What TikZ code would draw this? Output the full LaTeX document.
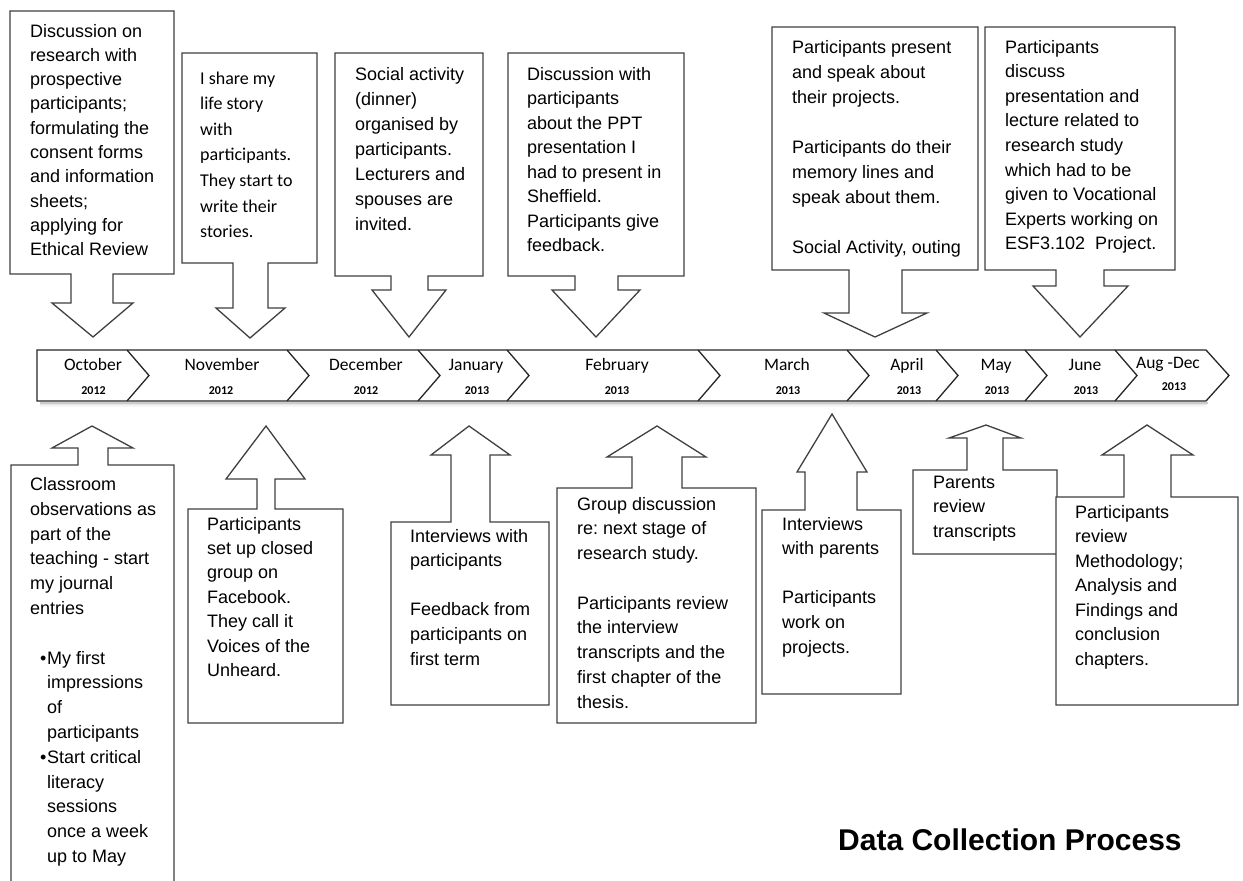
\documentclass[tikz,border=0pt]{standalone}
\usepackage{fontspec}
\setmainfont{Liberation Sans}
\newfontfamily\calfont{Carlito}
\frenchspacing
\begin{document}
\begin{tikzpicture}[x=1pt,y=-1pt,
  callout/.style={draw=black!75, line width=1.3pt, line join=miter, fill=white},
  band/.style={draw=black!85, line width=1.3pt, line join=miter},
  txt/.style={anchor=base west, inner sep=0pt, font=\fontsize{18}{24.6}\selectfont},
  mon/.style={anchor=base, inner sep=0pt, font=\calfont\fontsize{17.5}{20}\selectfont},
  yr/.style={anchor=base, inner sep=0pt, font=\calfont\bfseries\fontsize{12}{14}\selectfont}]
\path[use as bounding box] (0,0) rectangle (1243,881);
\clip (0,0) rectangle (1243,881);
\fill[white] (0,0) rectangle (1243,881);

% ---- timeline band ----
\draw[gray!40, line width=1.5pt] (40,403) -- (1208,403);
\draw[gray!20, line width=1.5pt] (40,404.5) -- (1207,404.5);
\draw[gray!8, line width=1.5pt] (40,406) -- (1206,406);
\draw[band, fill=white] (37,350) -- (1206,350) -- (1229,375.5) -- (1206,401) -- (37,401) -- cycle;
\foreach \b in {127,287,418,507,698,847,936,1025,1115}
  \draw[band] (\b,350) -- ({\b+22},375.5) -- (\b,401);

\node[mon] (m1) at (93,370) {October};
\node[mon] (m2) at (222,370) {November};
\node[mon] (m3) at (366,370) {December};
\node[mon] (m4) at (476,370) {January};
\node[mon] (m5) at (617,370) {February};
\node[mon] (m6) at (787,370) {March};
\node[mon] (m7) at (907,370) {April};
\node[mon] (m8) at (996,370) {May};
\node[mon] (m9) at (1085,370) {June};
\node[mon] (m10) at (1168,368) {Aug -Dec};
\node[yr] (y1) at (93.5,394) {2012};
\node[yr] (y2) at (221,394) {2012};
\node[yr] (y3) at (366,394) {2012};
\node[yr] (y4) at (477,394) {2013};
\node[yr] (y5) at (617,394) {2013};
\node[yr] (y6) at (788,394) {2013};
\node[yr] (y7) at (909,394) {2013};
\node[yr] (y8) at (997,394) {2013};
\node[yr] (y9) at (1086,394) {2013};
\node[yr] (y10) at (1174,390) {2013};

% ---- top callouts (down arrows) ----
\draw[callout] (10,11) -- (174,11) -- (174,274) -- (113,274) -- (113,303) -- (133,303) -- (93,337) -- (52,303) -- (71,303) -- (71,274) -- (10,274) -- cycle;
\draw[callout] (182,53) -- (317,53) -- (317,263) -- (268,263) -- (268,308) -- (285,308) -- (250,338) -- (216,308) -- (233,308) -- (233,263) -- (182,263) -- cycle;
\draw[callout] (335,53) -- (483,53) -- (483,276) -- (428,276) -- (428,290) -- (446,290) -- (409,337) -- (372,290) -- (391,290) -- (391,276) -- (335,276) -- cycle;
\draw[callout] (508,53) -- (684,53) -- (684,276) -- (618,276) -- (618,290) -- (640,290) -- (596,337) -- (552,290) -- (575,290) -- (575,276) -- (508,276) -- cycle;
\draw[callout] (772,27) -- (978,27) -- (978,270) -- (902,270) -- (902,313) -- (927,313) -- (875,337) -- (824,313) -- (849,313) -- (849,270) -- (772,270) -- cycle;
\draw[callout] (985,27) -- (1175,27) -- (1175,270) -- (1104,270) -- (1104,286) -- (1128,286) -- (1080,337) -- (1033,286) -- (1056,286) -- (1056,270) -- (985,270) -- cycle;

\node[txt, font=\fontsize{18}{24.3}\selectfont] (t1) at (30,37) {\begin{tabular}[t]{@{}l@{}}Discussion on\\research with\\prospective\\participants;\\formulating the\\consent forms\\and information\\sheets;\\applying for\\Ethical Review\end{tabular}};
\node[txt, font=\calfont\fontsize{18}{25.6}\selectfont] (t2) at (200,84) {\begin{tabular}[t]{@{}l@{}}I share my\\life story\\with\\participants.\\They start to\\write their\\stories.\end{tabular}};
\node[txt, font=\fontsize{18}{25}\selectfont] (t3) at (355,80) {\begin{tabular}[t]{@{}l@{}}Social activity\\(dinner)\\organised by\\participants.\\Lecturers and\\spouses are\\invited.\end{tabular}};
\node[txt, font=\fontsize{18}{24.5}\selectfont] (t4) at (527,80) {\begin{tabular}[t]{@{}l@{}}Discussion with\\participants\\about the PPT\\presentation I\\had to present in\\Sheffield.\\Participants give\\feedback.\end{tabular}};
\node[txt, font=\fontsize{18}{25}\selectfont] (t5) at (792,53) {\begin{tabular}[t]{@{}l@{}}Participants present\\and speak about\\their projects.\\ \\Participants do their\\memory lines and\\speak about them.\\ \\Social Activity, outing\end{tabular}};
\node[txt] (t6) at (1005,53) {\begin{tabular}[t]{@{}l@{}}Participants\\discuss\\presentation and\\lecture related to\\research study\\which had to be\\given to Vocational\\Experts working on\\ESF3.102\ \ Project.\end{tabular}};

% ---- bottom callouts (up arrows) ----
\draw[callout] (11,900) -- (11,465) -- (78,465) -- (78,448) -- (52,448) -- (92,426) -- (133,448) -- (108,448) -- (108,465) -- (174,465) -- (174,900);
\draw[callout] (188,509) -- (257,509) -- (257,479) -- (226,479) -- (266,426) -- (305,479) -- (275,479) -- (275,509) -- (343,509) -- (343,723) -- (188,723) -- cycle;
\draw[callout] (391,522) -- (451,522) -- (451,455) -- (431,455) -- (469,426) -- (510,455) -- (490,455) -- (490,522) -- (549,522) -- (549,705) -- (391,705) -- cycle;
\draw[callout] (557,488) -- (632,488) -- (632,457) -- (607,457) -- (657,426) -- (706,457) -- (682,457) -- (682,488) -- (756,488) -- (756,723) -- (557,723) -- cycle;
\draw[callout] (762,510) -- (805,510) -- (805,472) -- (797,472) -- (832,414) -- (867,472) -- (857,472) -- (857,510) -- (901,510) -- (901,694) -- (762,694) -- cycle;
\draw[callout] (913,470) -- (967,470) -- (967,438) -- (949,438) -- (986,425) -- (1021,438) -- (1003,438) -- (1003,470) -- (1057,470) -- (1057,554) -- (913,554) -- cycle;
\draw[callout] (1056,497) -- (1124,497) -- (1124,455) -- (1102,455) -- (1147,425) -- (1193,455) -- (1171,455) -- (1171,497) -- (1238,497) -- (1238,705) -- (1056,705) -- cycle;

\node[txt, font=\fontsize{18}{24.8}\selectfont] (b1) at (30,490.5) {\begin{tabular}[t]{@{}l@{}}Classroom\\observations as\\part of the\\teaching - start\\my journal\\entries\\ \\\hspace*{10pt}\makebox[7pt][l]{\textbullet}My first\\\hspace*{17pt}impressions\\\hspace*{17pt}of\\\hspace*{17pt}participants\\\hspace*{10pt}\makebox[7pt][l]{\textbullet}Start critical\\\hspace*{17pt}literacy\\\hspace*{17pt}sessions\\\hspace*{17pt}once a week\\\hspace*{17pt}up to May\end{tabular}};
\node[txt, font=\fontsize{18}{24.45}\selectfont] (b2) at (207,530) {\begin{tabular}[t]{@{}l@{}}Participants\\set up closed\\group on\\Facebook.\\They call it\\Voices of the\\Unheard.\end{tabular}};
\node[txt] (b3) at (410,542) {\begin{tabular}[t]{@{}l@{}}Interviews with\\participants\\ \\Feedback from\\participants on\\first term\end{tabular}};
\node[txt, font=\fontsize{18}{24.75}\selectfont] (b4) at (577,510) {\begin{tabular}[t]{@{}l@{}}Group discussion\\re: next stage of\\research study.\\ \\Participants review\\the interview\\transcripts and the\\first chapter of the\\thesis.\end{tabular}};
\node[txt] (b5) at (782,530) {\begin{tabular}[t]{@{}l@{}}Interviews\\with parents\\ \\Participants\\work on\\projects.\end{tabular}};
\node[txt, font=\fontsize{18}{24.5}\selectfont] (b6) at (933,488) {\begin{tabular}[t]{@{}l@{}}Parents\\review\\transcripts\end{tabular}};
\node[txt, font=\fontsize{18}{24.5}\selectfont] (b7) at (1075,518) {\begin{tabular}[t]{@{}l@{}}Participants\\review\\Methodology;\\Analysis and\\Findings and\\conclusion\\chapters.\end{tabular}};

\node[anchor=base west, inner sep=0pt, font=\bfseries\fontsize{30}{36}\selectfont] (title) at (838,850) {Data Collection Process};
\end{tikzpicture}
\end{document}
